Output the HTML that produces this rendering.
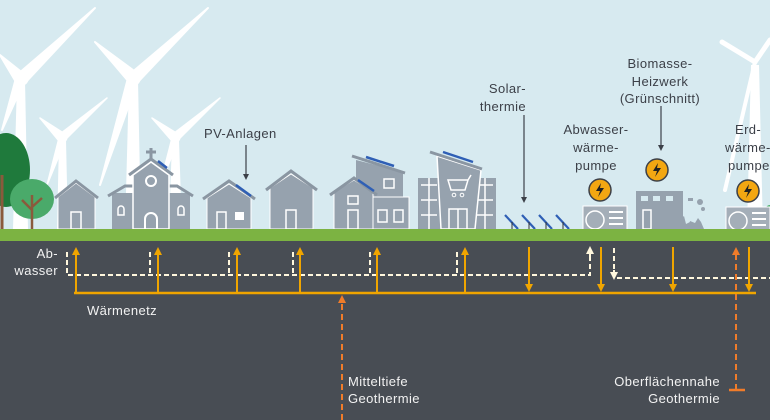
<!DOCTYPE html>
<html><head><meta charset="utf-8"><style>
html,body{margin:0;padding:0;width:770px;height:420px;overflow:hidden;background:#d7eaf0}
text{font-family:"Liberation Sans",sans-serif;font-size:13px;letter-spacing:0.4px}
</style></head><body>
<svg width="770" height="420" viewBox="0 0 770 420" xmlns="http://www.w3.org/2000/svg">
<defs>
<marker id="ao" markerWidth="8" markerHeight="8" refX="4" refY="4" orient="auto" markerUnits="userSpaceOnUse"><path d="M0,0 L8,4 L0,8 z" fill="#f0a500"/></marker>
<marker id="ar" markerWidth="8" markerHeight="8" refX="4" refY="4" orient="auto" markerUnits="userSpaceOnUse"><path d="M0,0 L8,4 L0,8 z" fill="#f07c2a"/></marker>
<marker id="aw" markerWidth="8" markerHeight="8" refX="4" refY="4" orient="auto" markerUnits="userSpaceOnUse"><path d="M0,0 L8,4 L0,8 z" fill="#fff7dd"/></marker>
<marker id="ak" markerWidth="6" markerHeight="6" refX="3" refY="3" orient="auto" markerUnits="userSpaceOnUse"><path d="M0,0 L6,3 L0,6 z" fill="#3c4048"/></marker>
<g id="bolt"><circle r="11" fill="#f3a712" stroke="#3c4048" stroke-width="1.5"/><path d="M1,-7 L-4,1 L0,1 L-2,7 L4,-2 L0,-2 z" fill="#222"/></g>
<g id="hp"><rect x="-22" y="0" width="44" height="28" fill="#a4aeb8" stroke="#fff" stroke-width="1"/><circle cx="-10" cy="14" r="9" fill="none" stroke="#fff" stroke-width="1.5"/><path d="M4,6 h14 M4,12 h14 M4,18 h14 M4,24 h14" stroke="#fff" stroke-width="2"/><rect x="-18" y="28" width="2" height="4" fill="#8a96a2"/><rect x="16" y="28" width="2" height="4" fill="#8a96a2"/></g>
</defs>
<rect width="770" height="230" fill="#d7eaf0"/>
<!-- turbines -->
<g fill="#fff" stroke="#fff" stroke-linecap="round" stroke-linejoin="round">
<path d="M17,80 L25,80 L28,230 L13,230 z" stroke="none"/>
<path d="M18,74 L95,8 L26,82 z" stroke-width="2"/><path d="M24,74 L0,55 L16,82 z" stroke-width="2"/><path d="M16,78 L2,130 L25,80 z" stroke-width="2"/>
<circle cx="22" cy="79" r="6"/>
<path d="M129,80 L138,80 L141,230 L125,230 z" stroke="none"/>
<path d="M130,74 L208,8 L138,82 z" stroke-width="2"/><path d="M137,73 L95,42 L129,82 z" stroke-width="2"/><path d="M128,78 L100,185 L138,80 z" stroke-width="2"/>
<circle cx="134" cy="79" r="6"/>
<path d="M59,140 L66,140 L68,230 L57,230 z" stroke="none"/>
<path d="M60,134 L107,98 L65,140 z" stroke-width="1.5"/><path d="M65,134 L40,118 L59,141 z" stroke-width="1.5"/><path d="M59,138 L47,185 L66,139 z" stroke-width="1.5"/>
<circle cx="63" cy="138" r="4"/>
<path d="M172,140 L179,140 L181,200 L170,200 z" stroke="none"/>
<path d="M173,134 L220,98 L178,140 z" stroke-width="1.5"/><path d="M178,134 L152,118 L172,141 z" stroke-width="1.5"/><path d="M172,138 L160,185 L179,139 z" stroke-width="1.5"/>
<circle cx="176" cy="138" r="4"/>
<path d="M751,65 L759,65 L763,230 L747,230 z" stroke="none"/>
<path d="M755,62 L722,42" stroke-width="5"/><path d="M755,62 L770,40" stroke-width="5"/><path d="M755,62 L725,190" stroke-width="4"/>
</g>
<!-- trees -->
<ellipse cx="6" cy="170" rx="24" ry="37" fill="#1f7a3c"/>
<path d="M2,229 L2,175" stroke="#8a5a3c" stroke-width="3"/>
<ellipse cx="32" cy="199" rx="22" ry="20" fill="#4aaa6a"/>
<path d="M32,229 L32,195 M32,210 L22,200 M32,207 L42,198" stroke="#8a5a3c" stroke-width="2.5"/>
<circle cx="770" cy="210" r="5" fill="#4aaa6a"/>
<!-- houses -->
<g fill="#96a2ae">
<path d="M58,197 L76,183 L95,197 L95,229 L58,229 z" stroke="#fff" stroke-width="1"/>
<path d="M55,198 L76,181 L98,198" fill="none" stroke="#8a96a2" stroke-width="3"/>
<rect x="71" y="212" width="10" height="17" fill="none" stroke="#fff" stroke-width="1.5"/>
<rect x="112" y="193" width="78" height="36"/>
<path d="M108,196 L125,186 L177,186 L193,196" fill="none" stroke="#8a96a2" stroke-width="3"/>
<path d="M133,175 L151,162 L169,175 L169,229 L133,229 z" stroke="#fff" stroke-width="1.5"/>
<path d="M129,175 L151,159 L173,175" fill="none" stroke="#8a96a2" stroke-width="3"/>
<path d="M151,148 v12 M146,152 h10" stroke="#8a96a2" stroke-width="3"/>
<circle cx="151" cy="181" r="5" fill="none" stroke="#fff" stroke-width="2"/>
<path d="M145,229 v-10 a6,6 0 0 1 12,0 v10" fill="none" stroke="#fff" stroke-width="2"/>
<path d="M118,215 v-6 a3,3 0 0 1 6,0 v6 z M178,215 v-6 a3,3 0 0 1 6,0 v6 z" fill="none" stroke="#fff" stroke-width="1.5"/>
<path d="M158,161 L167,168" stroke="#2f5fb5" stroke-width="2.5"/>
<path d="M207,198 L229,184 L251,198 L251,229 L207,229 z" stroke="#fff" stroke-width="1"/>
<path d="M203,199 L229,181 L255,199" fill="none" stroke="#8a96a2" stroke-width="3"/>
<path d="M236,185 L251,196" stroke="#2f5fb5" stroke-width="2.5"/>
<rect x="217" y="212" width="9" height="17" fill="none" stroke="#fff" stroke-width="1.5"/><rect x="235" y="212" width="9" height="8" fill="#fff"/>
<path d="M270,188 L291,174 L313,188 L313,229 L270,229 z" stroke="#fff" stroke-width="1"/>
<path d="M266,190 L291,171 L317,190" fill="none" stroke="#8a96a2" stroke-width="3"/>
<rect x="286" y="210" width="10" height="19" fill="none" stroke="#fff" stroke-width="1.5"/>
<path d="M356,160 L403,172 L403,229 L356,229 z"/>
<path d="M352,156 L405,173" stroke="#8a96a2" stroke-width="3"/>
<path d="M366,157 L394,166" stroke="#2f5fb5" stroke-width="2.5"/>
<path d="M334,192 L354,180 L373,192 L373,229 L334,229 z" stroke="#fff" stroke-width="1"/>
<path d="M330,195 L354,178 L377,195" fill="none" stroke="#8a96a2" stroke-width="3"/>
<path d="M358,180 L374,191" stroke="#2f5fb5" stroke-width="2.5"/>
<rect x="373" y="197" width="36" height="32" stroke="#fff" stroke-width="1"/>
<rect x="384" y="179" width="10" height="9" fill="none" stroke="#fff" stroke-width="1.5"/>
<rect x="348" y="196" width="10" height="8" fill="none" stroke="#fff" stroke-width="1.5"/>
<rect x="348" y="210" width="10" height="19" fill="none" stroke="#fff" stroke-width="1.5"/>
<rect x="378" y="210" width="9" height="12" fill="none" stroke="#fff" stroke-width="1.5"/><rect x="394" y="210" width="9" height="12" fill="none" stroke="#fff" stroke-width="1.5"/>
<rect x="418" y="178" width="78" height="51"/>
<path d="M421,185 h16 M421,200 h16 M421,215 h16 M477,185 h16 M477,200 h16 M477,215 h16 M429,178 v51 M485,178 v51" stroke="#fff" stroke-width="1.5"/>
<path d="M437,156 L481,170 L475,229 L441,229 z" stroke="#fff" stroke-width="1.5"/>
<path d="M430,152 L482,169" stroke="#8a96a2" stroke-width="3"/>
<path d="M443,152 L473,162" stroke="#2f5fb5" stroke-width="2.5"/>
<path d="M448,180 h20 l-3,10 h-14 z M468,180 l3,-5" fill="none" stroke="#fff" stroke-width="1.5"/>
<circle cx="454" cy="195" r="1.8" fill="none" stroke="#fff"/><circle cx="462" cy="195" r="1.8" fill="none" stroke="#fff"/>
<path d="M449,229 v-20 h18 v20 M458,209 v20" fill="none" stroke="#fff" stroke-width="1.5"/>
</g>
<g stroke="#2f5fb5" stroke-width="2.2"><path d="M505,215 L518,229 M522,215 L535,229 M539,215 L552,229 M556,215 L569,229"/></g>
<g stroke="#333" stroke-width="1"><path d="M512,222 v7 M529,222 v7 M546,222 v7 M563,222 v7"/></g>
<use href="#hp" x="605" y="206"/>
<use href="#bolt" x="600" y="190"/>
<use href="#hp" x="748" y="207"/>
<use href="#bolt" x="748" y="191"/>
<g fill="#96a2ae"><rect x="636" y="191" width="47" height="38"/></g>
<g fill="#d7eaf0"><rect x="641" y="196" width="7" height="5"/><rect x="653" y="196" width="7" height="5"/><rect x="666" y="196" width="7" height="5"/></g>
<rect x="643" y="210" width="8" height="19" fill="none" stroke="#fff" stroke-width="1.5"/>
<path d="M663,229 l4,-10 4,3 4,-8 4,6 5,-4 2,8 4,-2 1,7 z" fill="#96a2ae"/>
<path d="M688,229 l2,-8 5,2 3,-5 3,4 3,7 z" fill="#96a2ae"/>
<rect x="688" y="198" width="5" height="3" fill="#96a2ae"/><circle cx="700" cy="202" r="3" fill="#96a2ae"/><circle cx="703" cy="209" r="2" fill="#96a2ae"/>
<use href="#bolt" x="657" y="170"/>
<rect x="0" y="229" width="770" height="12" fill="#7cb342"/>
<rect x="0" y="241" width="770" height="179" fill="#484d54"/>
<g fill="none" stroke="#fff7dd" stroke-width="2" stroke-dasharray="5,3">
<path d="M67,252 V275 H590 V254" />
<path d="M150,252 V275 M229,252 V275 M293,252 V275 M370,252 V275 M457,252 V275"/>
<path d="M614,248 V273 M617,278 H770"/>
</g>
<path d="M590,256 V250" stroke="#fff7dd" stroke-width="2" marker-end="url(#aw)"/>
<path d="M614,270 V276" stroke="#fff7dd" stroke-width="2" marker-end="url(#aw)"/>
<path d="M74,293 H756" stroke="#f0a500" stroke-width="2.5"/>
<g stroke="#f0a500" stroke-width="2" fill="none">
<path d="M76,293 V251" marker-end="url(#ao)"/><path d="M158,293 V251" marker-end="url(#ao)"/><path d="M237,293 V251" marker-end="url(#ao)"/><path d="M300,293 V251" marker-end="url(#ao)"/><path d="M377,293 V251" marker-end="url(#ao)"/><path d="M465,293 V251" marker-end="url(#ao)"/>
<path d="M529,247 V288" marker-end="url(#ao)"/><path d="M601,247 V288" marker-end="url(#ao)"/><path d="M673,247 V288" marker-end="url(#ao)"/><path d="M749,247 V288" marker-end="url(#ao)"/>
</g>
<g stroke="#f07c2a" stroke-width="2" fill="none" stroke-dasharray="6,4">
<path d="M342,420 V300"/><path d="M736,390 V252"/>
</g>
<path d="M342,302 V299" stroke="#f07c2a" stroke-width="2" marker-end="url(#ar)"/>
<path d="M736,254 V251" stroke="#f07c2a" stroke-width="2" marker-end="url(#ar)"/>
<path d="M729,390 H745" stroke="#f07c2a" stroke-width="2.5"/>
<g stroke="#3c4048" stroke-width="1.2">
<path d="M246,145 V177" marker-end="url(#ak)"/><path d="M524,115 V200" marker-end="url(#ak)"/><path d="M661,106 V148" marker-end="url(#ak)"/>
</g>
<g fill="#3c4048">
<text x="204" y="138">PV-Anlagen</text>
<text x="526" y="93" text-anchor="end">Solar-</text><text x="526" y="111" text-anchor="end">thermie</text>
<text x="660" y="68" text-anchor="middle">Biomasse-</text><text x="660" y="86" text-anchor="middle">Heizwerk</text><text x="660" y="103" text-anchor="middle">(Grünschnitt)</text>
<text x="596" y="134" text-anchor="middle">Abwasser-</text><text x="596" y="152" text-anchor="middle">wärme-</text><text x="596" y="170" text-anchor="middle">pumpe</text>
<text x="735" y="134">Erd-</text><text x="725" y="152">wärme-</text><text x="728" y="170">pumpe</text>
</g>
<g fill="#f2f2f2">
<text x="58" y="258" text-anchor="end">Ab-</text><text x="58" y="275" text-anchor="end">wasser</text>
<text x="87" y="315">Wärmenetz</text>
<text x="348" y="386">Mitteltiefe</text><text x="348" y="403">Geothermie</text>
<text x="720" y="386" text-anchor="end">Oberflächennahe</text><text x="720" y="403" text-anchor="end">Geothermie</text>
</g>
</svg>
</body></html>
